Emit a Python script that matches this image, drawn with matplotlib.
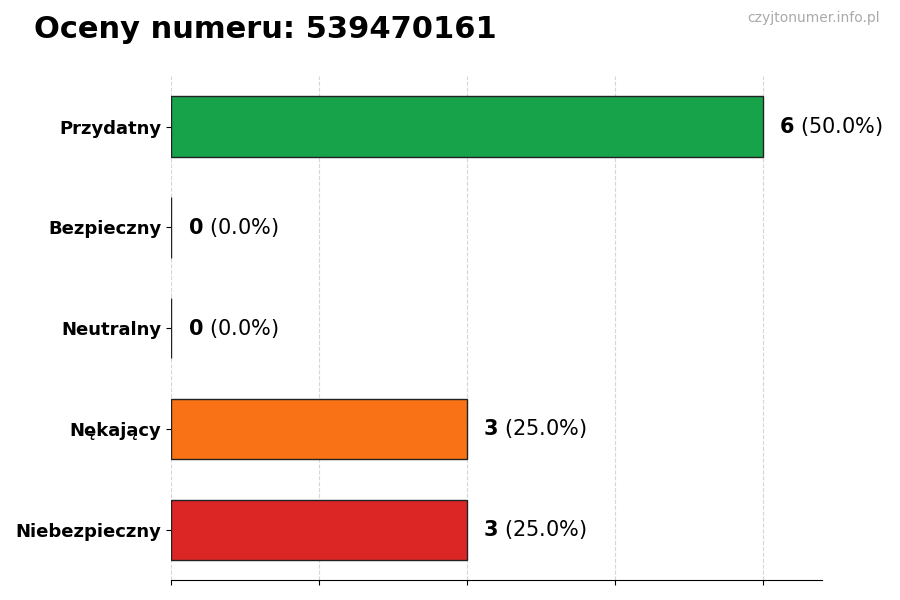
import matplotlib.pyplot as plt

categories = ['Przydatny', 'Bezpieczny', 'Neutralny', 'Nękający', 'Niebezpieczny']
counts = [6, 0, 0, 3, 3]
colors = ['#16a34a', '#22c55e', '#9ca3af', '#f97316', '#dc2626']
total = sum(counts)

fig = plt.figure(figsize=(9, 6), dpi=100)
ax = fig.add_axes([0.19, 0.033, 0.723, 0.84])

y = list(range(len(categories)))
ax.barh(y, counts, height=0.6, color=colors, edgecolor='#222222', linewidth=1)
ax.set_yticks(y)
ax.set_yticklabels(categories, fontsize=13, fontweight='bold')
ax.set_ylim(len(categories) - 0.5, -0.5)
ax.set_xlim(0, 6.6)
ax.set_xticks([0, 1.5, 3, 4.5, 6])
ax.set_xticklabels([])
ax.grid(axis='x', linestyle='--', color='#cccccc', alpha=0.8)
ax.set_axisbelow(True)
for s in ['top', 'right', 'left']:
    ax.spines[s].set_visible(False)

for i, c in enumerate(counts):
    pct = c / total * 100
    ax.annotate(f'$\\bf{{{c}}}$ ({pct:.1f}%)', (c, i), xytext=(12, 0),
                textcoords='offset points', va='center', fontsize=15)

fig.text(0.038, 0.95, 'Oceny numeru: 539470161', fontsize=22, fontweight='bold', va='center')
fig.text(0.978, 0.97, 'czyjtonumer.info.pl', fontsize=10, color='#aaaaaa', ha='right', va='center')

fig.savefig('out.png')
